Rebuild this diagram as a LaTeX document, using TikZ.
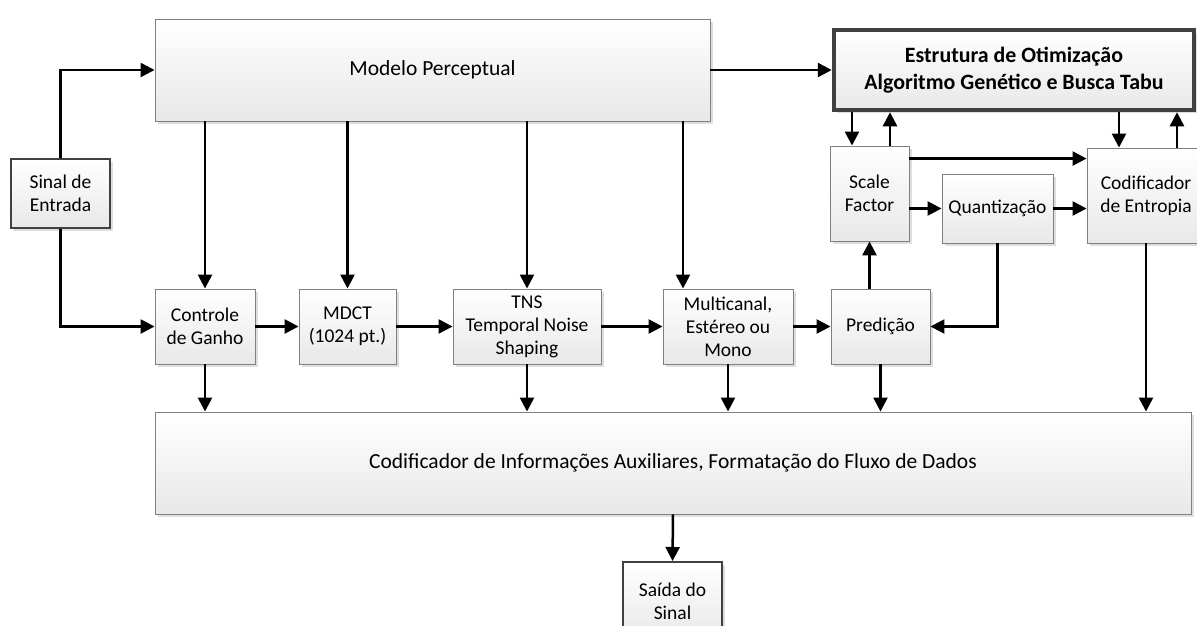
\documentclass[tikz,border=0pt]{standalone}
\usepackage{fontspec}
\setmainfont{Carlito}
\usetikzlibrary{arrows.meta,shadows,calc}
\newcommand\bx[7][blk]{%
  \pgfmathsetmacro\cx{(#3+#5)/2}\pgfmathsetmacro\cy{(#4+#6)/2}%
  \pgfmathsetmacro\ww{#5-#3}\pgfmathsetmacro\hh{#6-#4}%
  \node[#1, minimum width=\ww pt, minimum height=\hh pt] (#2) at (\cx,\cy) {#7};}
\begin{document}
\begin{tikzpicture}[x=1pt,y=-1pt,
 blk/.style={draw=black!50, line width=0.9pt, top color=white, bottom color=black!9, inner sep=0pt, align=center,
   font=\fontsize{19.5}{23}\selectfont,
   drop shadow={shadow xshift=3pt, shadow yshift=-3pt, fill=black!13, opacity=1}},
 big/.style={blk, font=\fontsize{21.5}{25}\selectfont},
 io/.style={blk, draw=black!75, line width=2pt},
 opt/.style={blk, draw=black!75, line width=4.5pt, font=\fontsize{21.9}{27}\selectfont\bfseries},
 arr/.style={line width=2.5pt, -{Triangle[length=14pt,width=14pt]}}
]
\useasboundingbox (0,0) rectangle (1197,626);
\clip (0,0) rectangle (1197,626);
\fill[white] (0,0) rectangle (1197,626);

\bx[io]{sin}{11}{159}{110}{228}{Sinal de\\Entrada}
\bx[big]{mp}{155}{19}{710}{121}{Modelo Perceptual}
\bx[opt]{opt}{834}{30}{1194}{110}{Estrutura de Otimização\\Algoritmo Genético e Busca Tabu}
\bx{ctrl}{155}{289}{255}{364}{Controle\\de Ganho}
\bx{mdct}{299}{289}{396}{364}{MDCT\\(1024 pt.)}
\bx{tns}{453}{289}{601}{364}{TNS\\Temporal Noise\\Shaping}
\bx{mc}{663}{289}{793}{364}{Multicanal,\\Estéreo ou\\Mono}
\bx{pred}{831}{289}{930}{364}{Predição}
\bx{sf}{830}{146}{909}{241}{Scale\\Factor}
\bx{qz}{942}{174}{1053}{243}{Quantização}
\bx{ent}{1087}{148}{1205}{243}{Codificador\\de Entropia}
\bx[big]{aux}{155}{412}{1191}{514}{Codificador de Informações Auxiliares, Formatação do Fluxo de Dados}
\bx[io]{out}{623}{562}{722}{640}{Saída do\\Sinal}

% input
\draw[arr] (sin.north) |- (mp.west);
\draw[arr] (sin.south) |- (ctrl.west);
% perceptual model outputs
\draw[arr] (mp.south -| ctrl.north) -- (ctrl.north);
\draw[arr] (mp.south -| mdct.north) -- (mdct.north);
\draw[arr] (mp.south -| tns.north) -- (tns.north);
\coordinate (mcin) at ([xshift=-45pt]mc.north);
\draw[arr] (mp.south -| mcin) -- (mcin);
\draw[arr] (mp.east) -- (mp.east -| opt.west);
% chain
\draw[arr] (ctrl.east) -- (mdct.west);
\draw[arr] (mdct.east) -- (tns.west);
\draw[arr] (tns.east) -- (mc.west);
\draw[arr] (mc.east) -- (pred.west);
% to auxiliary coder
\draw[arr] (ctrl.south) -- (ctrl.south |- aux.north);
\draw[arr] (tns.south) -- (tns.south |- aux.north);
\draw[arr] (mc.south) -- (mc.south |- aux.north);
\draw[arr] (pred.south) -- (pred.south |- aux.north);
\draw[arr] (ent.south) -- (ent.south |- aux.north);
\draw[arr] (aux.south) -- (out.north);
% optimisation loop
\draw[arr] (sf.south |- pred.north) -- (sf.south);
\draw[arr] (qz.south) |- (pred.east);
\draw[arr] (qz.west -| sf.east) -- (qz.west);
\draw[arr] (qz.east) -- (qz.east -| ent.west);
\coordinate (sfr) at ([yshift=-13pt]sf.north east);
\draw[arr] (sfr) -- (sfr -| ent.west);
\coordinate (sfa) at ([xshift=-17.5pt]sf.north);
\coordinate (sfb) at ([xshift=20.5pt]sf.north);
\draw[arr] (opt.south -| sfa) -- (sfa);
\draw[arr] (sfb) -- (sfb |- opt.south);
\coordinate (ena) at ([xshift=-27pt]ent.north);
\coordinate (enb) at ([xshift=31pt]ent.north);
\draw[arr] (opt.south -| ena) -- (ena);
\draw[arr] (enb) -- (enb |- opt.south);
\end{tikzpicture}
\end{document}
